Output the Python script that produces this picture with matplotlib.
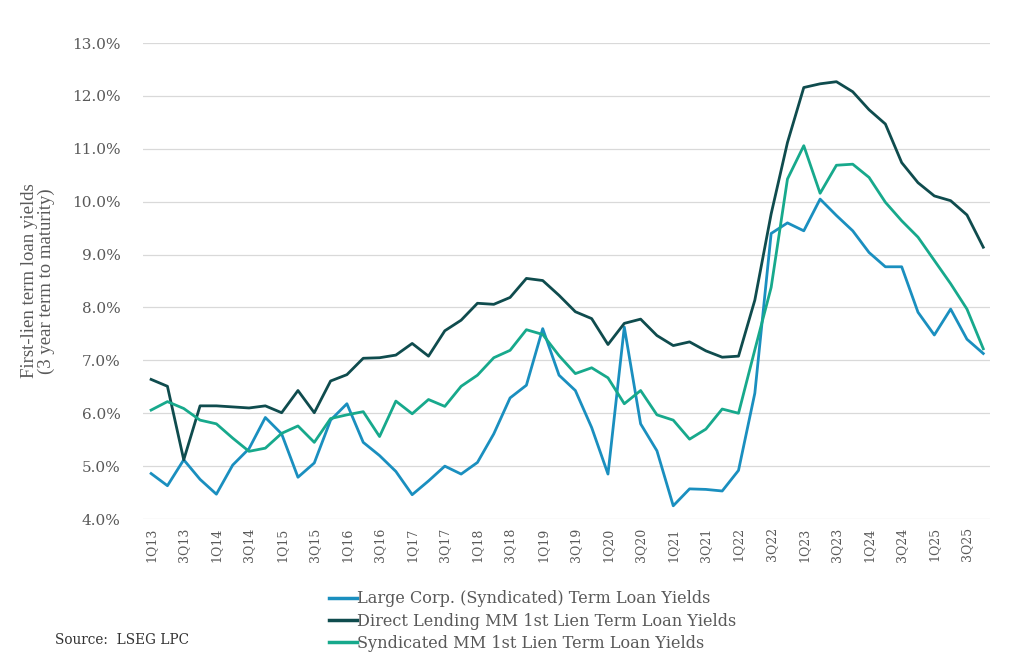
import matplotlib
matplotlib.use('Agg')
import matplotlib.pyplot as plt
from matplotlib.ticker import FuncFormatter

# quarters 1Q13 .. 4Q25
quarters = [f"{q}Q{y:02d}" for y in range(13, 26) for q in range(1, 5)]

large_corp = [4.86, 4.63, 5.12, 4.75, 4.47, 5.02, 5.33, 5.92, 5.61, 4.79,
              5.06, 5.87, 6.18, 5.45, 5.20, 4.90, 4.46, 4.72, 5.00, 4.85,
              5.07, 5.61, 6.29, 6.53, 7.60, 6.72, 6.43, 5.73, 4.85, 7.63,
              5.80, 5.29, 4.25, 4.57, 4.56, 4.53, 4.92, 6.38, 9.40, 9.60,
              9.45, 10.05, 9.74, 9.45, 9.04, 8.77, 8.77, 7.91, 7.48, 7.97,
              7.40, 7.13]

direct_lending = [6.64, 6.51, 5.12, 6.14, 6.14, 6.12, 6.10, 6.14, 6.01, 6.43,
                  6.01, 6.61, 6.73, 7.04, 7.05, 7.10, 7.32, 7.08, 7.56, 7.76,
                  8.08, 8.06, 8.19, 8.55, 8.51, 8.23, 7.92, 7.79, 7.30, 7.70,
                  7.78, 7.47, 7.28, 7.35, 7.18, 7.06, 7.08, 8.14, 9.77, 11.12,
                  12.16, 12.23, 12.27, 12.08, 11.74, 11.47, 10.74, 10.36, 10.11, 10.02,
                  9.75, 9.14]

syndicated_mm = [6.06, 6.22, 6.09, 5.87, 5.80, 5.53, 5.28, 5.34, 5.62, 5.76,
                 5.45, 5.90, 5.97, 6.03, 5.56, 6.23, 5.99, 6.26, 6.13, 6.51,
                 6.72, 7.05, 7.19, 7.58, 7.49, 7.09, 6.75, 6.86, 6.67, 6.18,
                 6.43, 5.97, 5.87, 5.51, 5.70, 6.08, 6.00, 7.20, 8.38, 10.43,
                 11.06, 10.16, 10.69, 10.71, 10.46, 9.99, 9.64, 9.33, 8.89, 8.45,
                 7.97, 7.22]

c_blue = '#1a8fbf'
c_dark = '#0f4c4e'
c_green = '#17a98c'
grey = '#595959'

fig = plt.figure(figsize=(10.24, 6.61), dpi=100)
ax = fig.add_axes([0.1396, 0.2148, 0.827, 0.720])

x = list(range(len(quarters)))
ax.plot(x, large_corp, color=c_blue, lw=2.0, label='Large Corp. (Syndicated) Term Loan Yields')
ax.plot(x, direct_lending, color=c_dark, lw=2.0, label='Direct Lending MM 1st Lien Term Loan Yields')
ax.plot(x, syndicated_mm, color=c_green, lw=2.0, label='Syndicated MM 1st Lien Term Loan Yields')

ax.set_xlim(-0.5, 51.4)
ax.set_ylim(4, 13)
ax.set_yticks(range(4, 14))
ax.yaxis.set_major_formatter(FuncFormatter(lambda v, p: f"{v:.1f}%"))
ax.set_xticks(x[::2])
ax.set_xticklabels(quarters[::2], rotation=90, fontsize=9, family='DejaVu Serif', color=grey)
for lab in ax.get_yticklabels():
    lab.set_family('DejaVu Serif')
    lab.set_fontsize(11)
    lab.set_color(grey)

ax.grid(axis='y', color='#d9d9d9', lw=0.9)
ax.set_axisbelow(True)
for s in ['top', 'right', 'left', 'bottom']:
    ax.spines[s].set_visible(False)
ax.tick_params(axis='both', length=0, pad=6)
ax.tick_params(axis='y', pad=16)

ax.set_ylabel('First-lien term loan yields\n(3 year term to maturity)',
              family='Liberation Serif', fontsize=13.5, color=grey, labelpad=12,
              linespacing=1.0)

leg = fig.legend(loc='upper center', bbox_to_anchor=(0.52, 0.119), frameon=False,
                 prop={'family': 'DejaVu Serif', 'size': 11.6},
                 handlelength=1.7, handletextpad=0.0, labelspacing=0.33,
                 borderpad=0)
for t in leg.get_texts():
    t.set_color(grey)
for l in leg.get_lines():
    l.set_linewidth(2.5)

fig.text(0.054, 0.026, 'Source:  LSEG LPC', family='DejaVu Serif', fontsize=9.8, color='#333333')

fig.savefig('out.png', dpi=100)
